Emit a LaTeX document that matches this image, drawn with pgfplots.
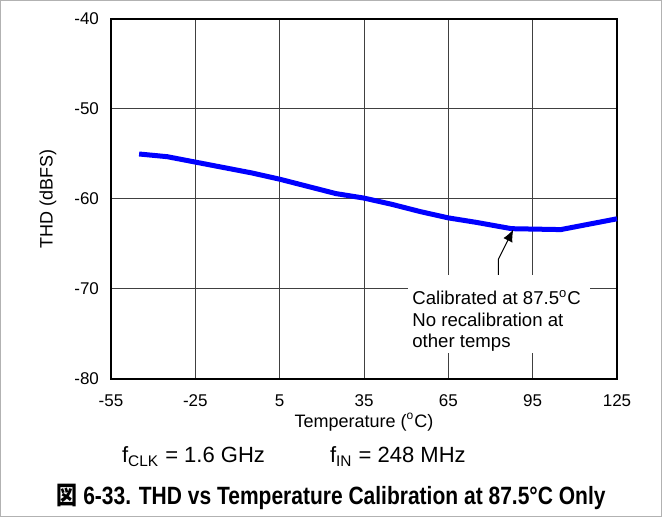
\documentclass[border=0pt]{standalone}
\usepackage{fontspec}
\setmainfont{Liberation Sans}
\newfontfamily\cjk{Noto Sans CJK JP}
\usepackage{pgfplots}
\pgfplotsset{compat=1.18}
\usetikzlibrary{arrows.meta}

\begin{document}
\begin{tikzpicture}
\useasboundingbox (0,0) rectangle (331pt,258.5pt);
\draw[gray!60, line width=0.5pt] (0.25pt,0.25pt) rectangle (330.75pt,258.25pt);
\begin{axis}[
  at={(55.5pt,69pt)}, anchor=south west,
  scale only axis, width=253pt, height=180pt,
  xmin=-55, xmax=125, ymin=-80, ymax=-40,
  xtick={-55,-25,5,35,65,95,125}, ytick={-80,-70,-60,-50,-40},
  xticklabels={-55,-25,5,35,65,95,125},
  yticklabels={-80,-70,-60,-50,-40},
  major tick length=0pt,
  grid=major, major grid style={black!75, line width=0.5pt},
  axis line style={line width=1pt},
  tick label style={font=\fontsize{8.5}{10}\selectfont},
  yticklabel style={xshift=-2.5pt},
  xticklabel style={anchor=base, yshift=-13.85pt},
  xlabel={Temperature (\textsuperscript{o}C)},
  ylabel={THD (dBFS)},
  label style={font=\fontsize{9}{11}\selectfont},
  xlabel style={at={(axis description cs:0.5,-0.134)}, anchor=base},
  ylabel style={at={(axis description cs:-0.1245,0.5)}, anchor=center},
  clip=false,
]
\addplot[blue, line width=2.5pt, line join=round, line cap=butt] coordinates {
(-45,-55.0) (-35,-55.3) (-25,-55.9) (-15,-56.5) (-5,-57.1) (5,-57.8)
(15,-58.6) (25,-59.4) (35,-59.9) (45,-60.6) (55,-61.4) (65,-62.1)
(75,-62.6) (87.5,-63.3) (105,-63.4) (125,-62.2)
};
\fill[white] (axis cs:50.65,-68.44) rectangle (axis cs:115.4,-77.1);
\node[anchor=north west, inner sep=0pt, align=left, font=\fontsize{9.3}{10.6}\selectfont] at (axis cs:52.07,-70.1) {Calibrated at 87.5\textsuperscript{o}C\\No recalibration at\\other temps};
\draw[line width=0.5pt, -{Latex[length=6pt,width=5pt]}] (axis cs:82.8,-68.44) -- (axis cs:82.8,-66.7) -- (axis cs:88.1,-63.4);
\end{axis}
\node[anchor=base west, font=\fontsize{11}{13}\selectfont] at (57.5pt,27pt) {f\textsubscript{CLK} = 1.6 GHz};
\node[anchor=base west, font=\fontsize{11}{13}\selectfont] at (161.5pt,27pt) {f\textsubscript{IN} = 248 MHz};
\node[anchor=base, font=\bfseries\fontsize{12.5}{14}\selectfont] at (165.5pt,6pt) {\scalebox{0.84}[1]{{\cjk 図} 6-33. THD vs Temperature Calibration at 87.5°C Only}};
\end{tikzpicture}
\end{document}
